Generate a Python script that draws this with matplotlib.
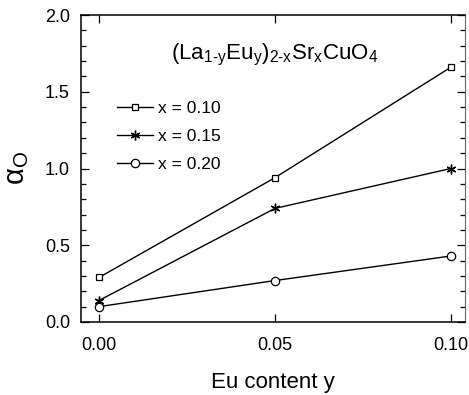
import matplotlib
matplotlib.use('Agg')
import matplotlib.pyplot as plt
from matplotlib.ticker import MultipleLocator

plt.rcParams['font.family'] = ['Liberation Sans', 'DejaVu Sans']
plt.rcParams['mathtext.fontset'] = 'custom'
plt.rcParams['mathtext.rm'] = 'Liberation Sans'

# Data
eu_content = [0.00, 0.05, 0.10]
alpha_x010 = [0.29, 0.94, 1.66]
alpha_x015 = [0.14, 0.74, 1.00]
alpha_x020 = [0.10, 0.27, 0.43]
series_labels = ['x = 0.10', 'x = 0.15', 'x = 0.20']
x_ticks = [0.00, 0.05, 0.10]
x_tick_labels = ['0.00', '0.05', '0.10']

fig = plt.figure(figsize=(4.69, 3.95), dpi=100)
ax = fig.add_axes([81 / 469, 1 - 322 / 395, (465 - 81) / 469, (322 - 15) / 395])

ax.plot(eu_content, alpha_x010, color='black', lw=1, marker='s', ms=5,
        mfc='white', mec='black', mew=0.9, label=series_labels[0])
ax.plot(eu_content, alpha_x015, color='black', lw=1, marker=(6, 2, 0), ms=7,
        mfc='black', mec='black', mew=1.0, label=series_labels[1])
ax.plot(eu_content, alpha_x020, color='black', lw=1, marker='o', ms=6,
        mfc='white', mec='black', mew=0.9, label=series_labels[2])

ax.set_xlim(-0.0051, 0.104)
ax.set_ylim(0, 2.0)
ax.set_xticks(x_ticks)
ax.set_xticklabels(x_tick_labels)
ax.yaxis.set_major_locator(MultipleLocator(0.5))
ax.yaxis.set_minor_locator(MultipleLocator(0.1))
ax.yaxis.set_major_formatter(plt.FormatStrFormatter('%.1f'))

ax.tick_params(which='both', direction='in', top=True, right=True, labelsize=13, width=0.9)
ax.tick_params(which='major', length=6)
ax.tick_params(which='minor', length=3.5)
ax.tick_params(axis='x', pad=11)
ax.tick_params(axis='y', pad=8)
for side in ['left', 'bottom', 'top']:
    ax.spines[side].set_linewidth(1.1)
ax.spines['right'].set_linewidth(0.8)
ax.spines['right'].set_color('#666666')

ax.set_xlabel('Eu content y', fontsize=16, labelpad=13)
ax.set_ylabel(r'α$_{\rm O}$', fontsize=21, labelpad=10)

ax.text(0.505, 0.87, r'(La$_{\rm 1\text{-}y}$Eu$_{\rm y}$)$_{\rm 2\text{-}x}$Sr$_{\rm x}$CuO$_{\rm 4}$',
        transform=ax.transAxes, ha='center', va='center', fontsize=16)

ax.legend(loc='upper left', bbox_to_anchor=(0.075, 0.743), frameon=False, fontsize=12.5,
          handlelength=2.1, handletextpad=0.3, labelspacing=0.75, borderaxespad=0)

fig.savefig('out.png', dpi=100)
